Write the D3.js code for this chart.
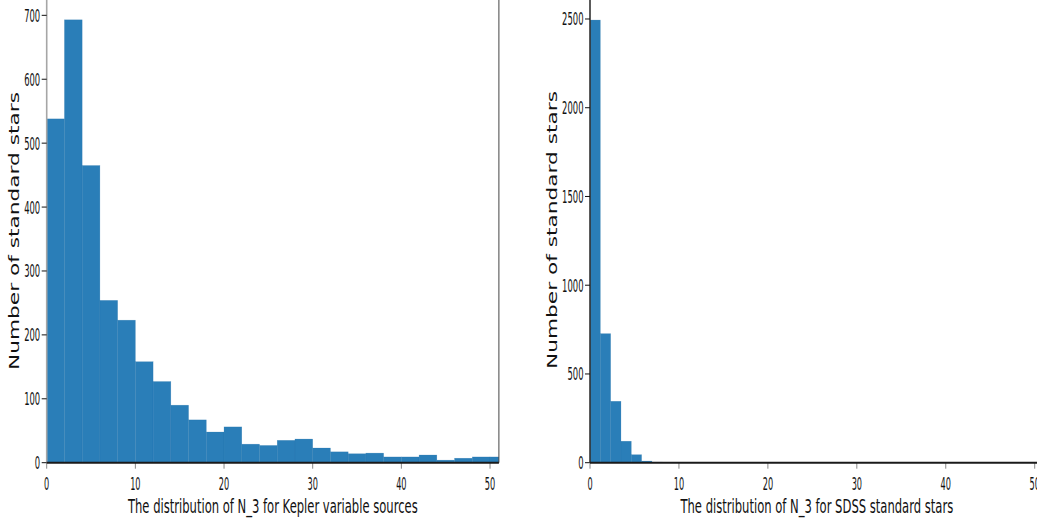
<!DOCTYPE html>
<html><head><meta charset="utf-8">
<script src="https://cdn.jsdelivr.net/npm/d3@7"></script>
<style>html,body{margin:0;padding:0;background:#fff;}svg{display:block;}</style>
</head><body>
<svg id="c" width="1037" height="524"></svg>
<script>
// ---- data ----
const keplerBinWidth = 2;
const keplerCounts = [538, 693, 465, 254, 223, 158, 127, 90, 67, 48, 56, 29, 27, 35, 37, 23, 17, 14, 15, 9, 9, 12, 4, 7, 9, 9];
const sdssBinWidth = 1.16;
const sdssCounts = [2494, 727, 346, 121, 45, 9, 3, 2, 1, 1, 1, 1, 1, 1, 1, 1, 1, 1, 1, 1];
const xTicks = [0, 10, 20, 30, 40, 50];
const keplerYTicks = [0, 100, 200, 300, 400, 500, 600, 700];
const sdssYTicks = [0, 500, 1000, 1500, 2000, 2500];
const yLabel = "Number of standard stars";
const keplerXLabel = "The distribution of N_3 for Kepler variable sources";
const sdssXLabel = "The distribution of N_3 for SDSS standard stars";

const svg = d3.select("#c");
const barFill = "#2a7eb8";
const font = "DejaVu Sans, Verdana, sans-serif";

// squeeze a text horizontally to a target width using a scale transform
function squeeze(sel, cx, cy, target, rotate) {
  sel.each(function() {
    const natural = this.getComputedTextLength();
    const s = target / natural;
    if (rotate) {
      d3.select(this).attr("transform", `translate(${cx},${cy}) rotate(-90) scale(${s},1)`);
    } else {
      d3.select(this).attr("transform", `translate(${cx},${cy}) scale(${s},1)`);
    }
  });
}

function panel(cfg) {
  const x = d3.scaleLinear().domain([0, 51]).range([cfg.x0, cfg.x1]);
  const y = d3.scaleLinear().domain([0, cfg.yMax]).range([462.7, 0]);
  const g = svg.append("g");
  const clipId = "clip" + cfg.id;
  svg.append("clipPath").attr("id", clipId).append("rect")
    .attr("x", cfg.x0).attr("y", 0).attr("width", cfg.x1 - cfg.x0).attr("height", 463);
  // bars
  g.append("g").attr("clip-path", `url(#${clipId})`)
    .selectAll("rect").data(cfg.counts).join("rect")
    .attr("x", (d, i) => x(i * cfg.bw))
    .attr("width", (d, i) => x((i + 1) * cfg.bw) - x(i * cfg.bw))
    .attr("y", d => y(d))
    .attr("height", d => y(0) - y(d))
    .attr("fill", barFill)
    .attr("stroke", "#1f6fa8").attr("stroke-width", 0.5).attr("stroke-opacity", 0.4);
  // left spine
  g.append("line").attr("x1", x(0)).attr("x2", x(0)).attr("y1", 0).attr("y2", y(0))
    .attr("stroke", cfg.spineColor).attr("stroke-width", 1.6);
  if (cfg.rightSpine) {
    g.append("line").attr("x1", cfg.x1).attr("x2", cfg.x1).attr("y1", 0).attr("y2", y(0))
      .attr("stroke", "#444").attr("stroke-width", 1);
  }
  // y ticks
  const yt = g.append("g").selectAll("g").data(cfg.yTicks).join("g")
    .attr("transform", d => `translate(0,${y(d)})`);
  yt.append("line").attr("x1", x(0) - 5).attr("x2", x(0)).attr("stroke", "#111").attr("stroke-width", 1);
  yt.append("text").attr("x", x(0) - 6.5).attr("y", 6.5)
    .attr("text-anchor", "end").attr("font-family", font).attr("font-size", 18)
    .attr("textLength", d => String(d).length * 5.35).attr("lengthAdjust", "spacingAndGlyphs")
    .attr("fill", "#111").text(d => d);
  // x ticks
  const xt = g.append("g").selectAll("g").data(xTicks).join("g")
    .attr("transform", d => `translate(${x(d)},0)`);
  xt.append("line").attr("y1", y(0)).attr("y2", y(0) + 6).attr("stroke", "#888").attr("stroke-width", 1);
  xt.append("text").attr("y", 490).attr("text-anchor", "middle")
    .attr("font-family", font).attr("font-size", 18)
    .attr("textLength", d => String(d).length * 5.2).attr("lengthAdjust", "spacingAndGlyphs")
    .attr("fill", "#111").text(d => d);
  // bottom spine
  g.append("line").attr("x1", x(0)).attr("x2", cfg.x1).attr("y1", y(0)).attr("y2", y(0))
    .attr("stroke", "#1a1a1a").attr("stroke-width", 2);
  // x label
  g.append("text")
    .attr("text-anchor", "middle").attr("font-family", font).attr("font-size", 19)
    .attr("fill", "#111").text(cfg.xLabel)
    .call(squeeze, (cfg.x0 + cfg.x1) / 2, 513, cfg.xLabelLen, false);
  // y label
  g.append("text")
    .attr("text-anchor", "middle").attr("font-family", font).attr("font-size", 14)
    .attr("fill", "#111").text(yLabel)
    .call(squeeze, cfg.yLabelX, cfg.yLabelY, 278, true);
}

panel({id: 1, x0: 46.7, x1: 498.9, yMax: 724, counts: keplerCounts, bw: keplerBinWidth,
  yTicks: keplerYTicks, spineColor: "#a6a6a6", rightSpine: true,
  xLabel: keplerXLabel, xLabelLen: 290, yLabelX: 19, yLabelY: 231});
panel({id: 2, x0: 590, x1: 1043.6, yMax: 2607, counts: sdssCounts, bw: sdssBinWidth,
  yTicks: sdssYTicks, spineColor: "#333", rightSpine: false,
  xLabel: sdssXLabel, xLabelLen: 273, yLabelX: 557, yLabelY: 230});
</script>
</body></html>
